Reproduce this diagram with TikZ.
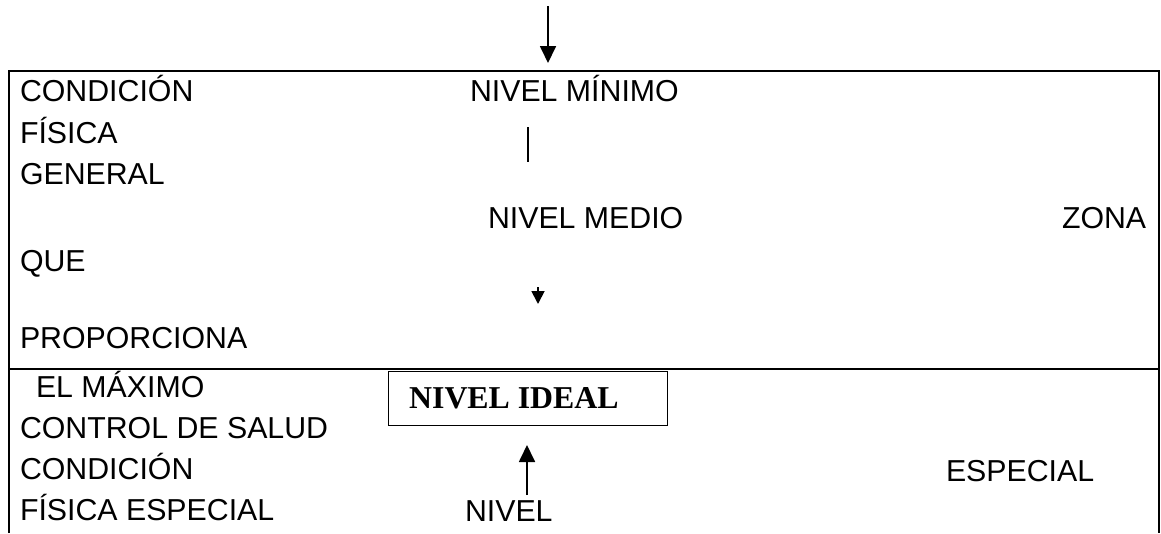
\documentclass[tikz,border=0pt]{standalone}
\usepackage{fontspec}
\setmainfont{Liberation Sans}
\newfontfamily\timesfont{Liberation Serif}
\usetikzlibrary{arrows.meta}
\tikzset{
  lbl/.style={anchor=base west, inner sep=0pt, outer sep=0pt, font=\fontsize{30.3}{36}\selectfont},
  frame/.style={line width=2pt},
  arr/.style={line width=1.8pt, -{Triangle[width=16pt,length=17pt]}},
  smallarr/.style={line width=1.8pt, -{Triangle[width=13pt,length=13pt]}},
  idealbox/.style={draw, line width=1.3pt, minimum width=279pt, minimum height=54pt, inner sep=0pt, anchor=north west}
}
\begin{document}
\begin{tikzpicture}[x=1pt,y=-1pt]
\useasboundingbox (0,0) rectangle (1161,533);
% frame
\coordinate (tl) at (9,71);
\coordinate (tr) at (1159,71);
\coordinate (bl) at (9,533);
\coordinate (br) at (1159,533);
\coordinate (ml) at (9,369);
\coordinate (mr) at (1159,369);
\draw[frame] (bl) -- (tl) -- (tr) -- (br);
\draw[frame] (ml) -- (mr);
% left column
\node[lbl] (t1) at (20,101) {CONDICIÓN};
\node[lbl] (t2) at (20,143) {FÍSICA};
\node[lbl] (t3) at (20,184) {GENERAL};
\node[lbl] (t4) at (20,271) {QUE};
\node[lbl] (t5) at (20,348) {PROPORCIONA};
\node[lbl] (t6) at (36,397) {EL MÁXIMO};
\node[lbl] (t7) at (20,438) {CONTROL DE SALUD};
\node[lbl] (t8) at (20,479) {CONDICIÓN};
\node[lbl] (t9) at (20,520) {FÍSICA ESPECIAL};
% centre column
\node[lbl] (nmin) at (470,101) {NIVEL MÍNIMO};
\node[lbl] (nmed) at (488,228) {NIVEL MEDIO};
\node[lbl] (niv) at (465,521) {NIVEL};
\node[lbl] (zona) at (1062,228) {ZONA};
\node[lbl] (esp) at (946,481) {ESPECIAL};
\node[idealbox] (ideal) at (388,371) {};
\node[anchor=base west, inner sep=0pt, font=\timesfont\bfseries\fontsize{31.8}{36}\selectfont] (idealtxt) at (409,408) {NIVEL IDEAL};
% arrows and lines
\coordinate (a1s) at (548,6);
\coordinate (a1e) at (548,63);
\draw[arr] (a1s) -- (a1e);
\coordinate (v1s) at (528,127);
\coordinate (v1e) at (528,162);
\draw[line width=1.3pt] (v1s) -- (v1e);
\coordinate (a2s) at (538,287);
\coordinate (a2e) at (538,304);
\draw[smallarr] (a2s) -- (a2e);
\coordinate (a3s) at (527,495);
\coordinate (a3e) at (527,445);
\draw[arr] (a3s) -- (a3e);
\end{tikzpicture}
\end{document}
